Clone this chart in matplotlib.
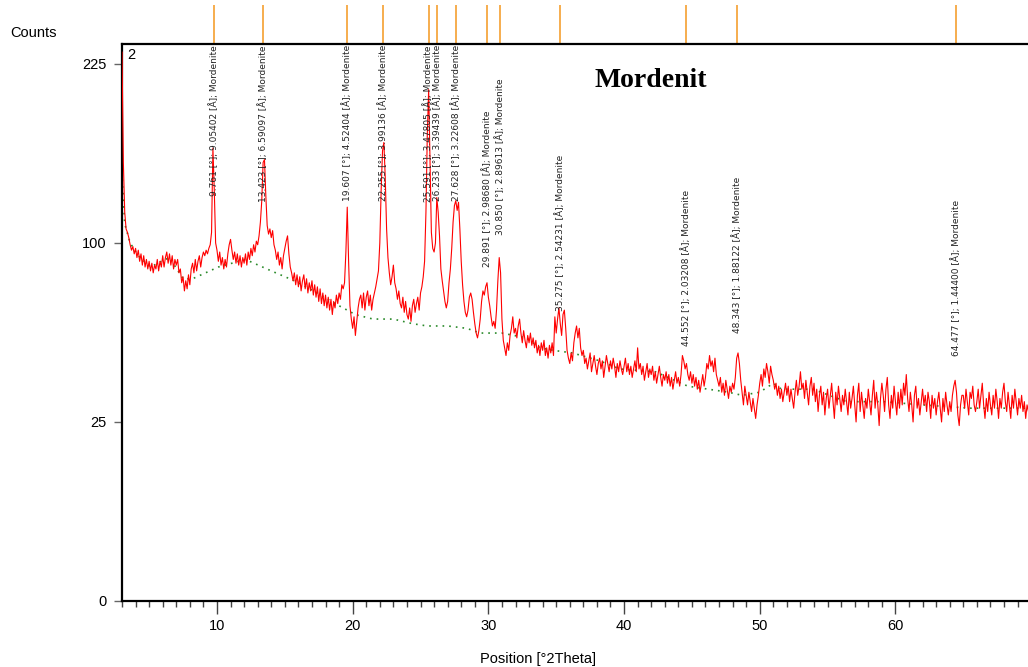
import matplotlib.pyplot as plt
import numpy as np
from matplotlib.ticker import MultipleLocator, FixedLocator
import matplotlib.transforms as mtransforms

# scan grid
THETA_START = 3.0
THETA_STEP = 0.1

# measured counts, one row per degree 2Theta (x.0, x.1, ... x.9)
counts_rows = [
    [235, 150, 118, 108, 106, 103, 99, 96, 98, 94],      # 3
    [97, 92, 96, 90, 94, 88, 93, 87, 91, 86],            # 4
    [90, 85, 89, 84, 88, 86, 91, 85, 90, 87],            # 5
    [93, 87, 92, 95, 89, 94, 88, 93, 86, 91],            # 6
    [88, 91, 84, 86, 79, 82, 75, 80, 76, 83],            # 7
    [78, 86, 89, 84, 91, 85, 90, 93, 87, 92],            # 8
    [95, 93, 96, 94, 97, 99, 106, 160, 132, 100],        # 9
    [96, 90, 95, 88, 92, 86, 91, 87, 94, 99],            # 10
    [102, 96, 91, 95, 89, 94, 88, 93, 87, 92],           # 11
    [89, 94, 88, 95, 91, 97, 93, 99, 95, 101],           # 12
    [99, 104, 112, 125, 150, 152, 128, 110, 105, 108],   # 13
    [103, 107, 99, 96, 91, 95, 88, 92, 86, 93],          # 14
    [97, 101, 104, 94, 87, 84, 80, 84, 78, 83],          # 15
    [77, 82, 75, 80, 83, 76, 81, 74, 79, 75],            # 16
    [80, 73, 78, 72, 77, 70, 76, 69, 74, 68],            # 17
    [73, 67, 72, 66, 71, 64, 70, 67, 73, 69],            # 18
    [74, 71, 78, 76, 79, 95, 121, 90, 68, 62],           # 19
    [58, 63, 55, 61, 67, 71, 73, 67, 74, 66],            # 20
    [72, 75, 68, 73, 66, 71, 74, 77, 81, 85],            # 21
    [100, 132, 158, 164, 140, 108, 92, 84, 78, 82],      # 22
    [88, 79, 76, 71, 75, 69, 67, 72, 65, 70],            # 23
    [64, 62, 67, 61, 68, 71, 65, 69, 72, 66],            # 24
    [74, 77, 82, 90, 118, 170, 204, 150, 106, 97],       # 25
    [95, 100, 127, 118, 104, 86, 80, 75, 70, 67],        # 26
    [70, 79, 86, 97, 112, 122, 125, 119, 124, 108],      # 27
    [90, 78, 70, 65, 63, 66, 72, 74, 71, 65],            # 28
    [60, 56, 54, 57, 62, 70, 75, 73, 77, 79],            # 29
    [72, 68, 63, 59, 61, 58, 66, 80, 92, 84],            # 30
    [62, 53, 50, 47, 52, 49, 55, 58, 63, 56],            # 31
    [58, 54, 59, 62, 56, 52, 57, 53, 50, 55],            # 32
    [52, 56, 51, 54, 50, 53, 48, 51, 47, 52],            # 33
    [49, 53, 47, 50, 46, 51, 48, 52, 47, 63],            # 34
    [56, 62, 67, 60, 55, 64, 66, 58, 49, 46],            # 35
    [44, 48, 45, 52, 56, 59, 54, 58, 50, 47],            # 36
    [49, 44, 46, 42, 45, 48, 41, 44, 47, 43],            # 37
    [40, 44, 46, 42, 45, 39, 43, 47, 44, 41],            # 38
    [45, 42, 46, 43, 39, 44, 41, 45, 42, 40],            # 39
    [43, 46, 41, 44, 40, 43, 39, 42, 45, 41],            # 40
    [50, 42, 44, 40, 43, 38, 41, 44, 39, 42],            # 41
    [40, 43, 38, 41, 37, 40, 43, 39, 36, 40],            # 42
    [38, 41, 37, 40, 36, 39, 35, 38, 41, 37],            # 43
    [39, 36, 40, 47, 45, 42, 44, 40, 38, 41],            # 44
    [37, 40, 36, 39, 35, 38, 34, 37, 40, 36],            # 45
    [39, 44, 42, 47, 43, 45, 41, 46, 40, 38],            # 46
    [36, 39, 34, 37, 33, 38, 35, 32, 36, 34],            # 47
    [37, 35, 39, 46, 48, 44, 38, 34, 30, 36],            # 48
    [33, 30, 34, 31, 28, 32, 29, 26, 30, 33],            # 49
    [37, 40, 36, 42, 39, 44, 41, 37, 43, 40],            # 50
    [38, 35, 37, 33, 36, 32, 35, 31, 34, 37],            # 51
    [33, 36, 31, 35, 32, 29, 34, 38, 33, 36],            # 52
    [41, 35, 37, 32, 38, 34, 30, 36, 39, 33],            # 53
    [37, 31, 35, 28, 33, 36, 30, 34, 27, 32],            # 54
    [35, 29, 33, 37, 31, 26, 34, 30, 36, 32],            # 55
    [28, 33, 30, 35, 31, 27, 34, 29, 32, 36],            # 56
    [30, 25, 33, 37, 28, 34, 30, 26, 32, 29],            # 57
    [35, 31, 27, 33, 38, 29, 34, 30, 24, 32],            # 58
    [37, 33, 28, 35, 39, 30, 26, 33, 29, 36],            # 59
    [31, 27, 34, 29, 35, 30, 37, 33, 40, 32],            # 60
    [28, 34, 30, 25, 33, 36, 29, 32, 27, 31],            # 61
    [35, 30, 33, 28, 34, 31, 26, 33, 29, 32],            # 62
    [27, 31, 34, 29, 25, 32, 28, 34, 30, 27],            # 63
    [31, 28, 33, 36, 38, 34, 27, 24, 30, 33],            # 64
    [33, 29, 35, 31, 27, 34, 32, 36, 30, 28],            # 65
    [31, 35, 29, 33, 37, 30, 26, 32, 28, 34],            # 66
    [30, 27, 33, 29, 35, 31, 26, 32, 29, 34],            # 67
    [37, 31, 28, 34, 30, 26, 33, 29, 35, 31],            # 68
    [27, 32, 29, 33, 28, 31, 26, 30, 28, 32],            # 69
]
counts = [c for row in counts_rows for c in row]
two_theta = THETA_START + THETA_STEP * np.arange(len(counts))

# fitted background (green)
bg_theta = [3.0, 3.2, 3.6, 4.2, 5.1, 5.9, 6.5, 7.5, 8.2, 10.1, 12.1, 14.0, 15.7,
            17.4, 18.7, 20.2, 21.5, 23.0, 24.4, 25.5, 27.0, 28.4, 29.4, 31.0,
            32.8, 33.8, 34.8, 36.2, 38.2, 39.7, 42.3, 44.7, 46.2, 47.7, 48.7,
            50.0, 51.0, 51.6, 53.9, 56.4, 59.1, 62.0, 65.5, 68.9, 69.8]
bg_counts = [143, 111, 100, 93, 87, 90, 92, 81, 81, 87, 91, 85, 80,
             74, 69, 64, 62, 62, 60, 59, 59, 58, 56, 56,
             54, 50, 49, 48, 45, 42, 41, 36, 35, 34, 33,
             34, 37, 35, 35, 31, 31, 30, 29, 29, 29]

# identified Mordenite reflections
peak_pos = [9.761, 13.423, 19.607, 22.255, 25.591, 26.233, 27.628,
            29.891, 30.850, 35.275, 44.552, 48.343, 64.477]
peak_d = ["9.05402", "6.59097", "4.52404", "3.99136", "3.47805", "3.39439",
          "3.22608", "2.98680", "2.89613", "2.54231", "2.03208", "1.88122",
          "1.44400"]
label_top = [0.998, 0.998, 0.998, 0.998, 0.998, 0.998, 0.998,
             0.881, 0.939, 0.801, 0.738, 0.761, 0.720]

W, H = 1028, 667
fig = plt.figure(figsize=(W / 100, H / 100), dpi=100)
ax = fig.add_axes([122 / W, 66 / H, (W - 122) / W, 557 / H])

ax.plot(bg_theta, bg_counts, color='#2a8a2a', lw=1.2, ls=(0, (1, 3)), zorder=2)
ax.plot(two_theta, counts, color='#ff0000', lw=0.8, zorder=3)

ax.set_yscale('function', functions=(lambda v: np.sqrt(np.clip(v, 0, None)),
                                     lambda v: np.square(v)))
ax.set_ylim(0, 242)
ax.set_xlim(3.0, 69.77)
ax.yaxis.set_major_locator(FixedLocator([0, 25, 100, 225]))
ax.yaxis.set_minor_locator(FixedLocator([]))
ax.xaxis.set_major_locator(MultipleLocator(10))
ax.xaxis.set_minor_locator(MultipleLocator(1))

for s in ['left', 'bottom', 'top']:
    ax.spines[s].set_linewidth(1.6)
    ax.spines[s].set_color('black')
ax.spines['right'].set_visible(False)

ax.tick_params(axis='x', which='major', direction='out', length=9, width=1,
               color='#444444', pad=4, labelsize=10.5, top=False)
ax.tick_params(axis='x', which='minor', direction='out', length=4.5, width=1,
               color='#444444', top=False)
ax.tick_params(axis='y', which='major', direction='out', length=6, width=1,
               color='#666666', pad=5, labelsize=10.5, right=False)
for lab in ax.get_xticklabels() + ax.get_yticklabels():
    lab.set_family('Liberation Sans')

# peak labels and reference sticks above the frame
# (25.591 and 26.233 sit on top of each other, as in the original scan report)
trans = mtransforms.blended_transform_factory(ax.transData, ax.transAxes)
for pos, d, top in zip(peak_pos, peak_d, label_top):
    ax.text(pos, top, "%.3f [°]; %s [Å]; Mordenite" % (pos, d), transform=trans,
            rotation=90, ha='center', va='top', fontsize=6.5, color='#222222',
            zorder=4)
ax.vlines(peak_pos, 1.0, 1.0 + 39 / 557, transform=trans, colors='#f5a030',
          lw=1.2, clip_on=False)

ax.text(0.006, 0.992, "2", transform=ax.transAxes, ha='left', va='top',
        fontsize=10.5, family='Liberation Sans')
ax.text(0.584, 0.935, "Mordenit", transform=ax.transAxes, ha='center',
        va='center', fontsize=20, fontweight='bold', family='Liberation Serif')

fig.text(10 / W, 1 - 33 / H, "Counts", ha='left', va='center', fontsize=10.5,
         family='Liberation Sans')
fig.text(538 / W, 1 - 659 / H, "Position [°2Theta]", ha='center',
         va='center', fontsize=10.5, family='Liberation Sans')

fig.savefig('out.png', dpi=100, facecolor='white')
